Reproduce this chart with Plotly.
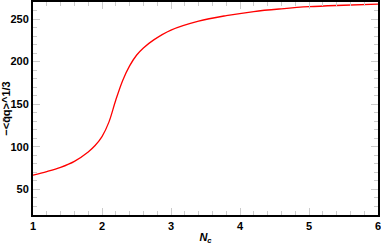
import plotly.graph_objects as go

nc = [1.0, 1.2, 1.4, 1.6, 1.8, 1.9, 2.0, 2.1, 2.2, 2.3, 2.4, 2.5, 2.6, 2.75, 3.0, 3.4, 3.8, 4.2, 4.6, 5.0, 5.5, 6.0]
cond = [66.8, 71, 76, 83, 94, 101.5, 112, 129, 155, 178, 195, 207.5, 216, 225.5, 237, 247.5, 254, 258.8, 262, 264.5, 266.2, 267.5]

x_ticks = [1, 2, 3, 4, 5, 6]
y_ticks = [50, 100, 150, 200, 250]

fig = go.Figure()
fig.add_trace(go.Scatter(x=nc, y=cond, mode="lines",
                         line=dict(color="#ff0000", width=1.3, shape="spline", smoothing=1),
                         showlegend=False, hoverinfo="skip"))

FAM = "Liberation Sans, Arial, sans-serif"
axis_common = dict(showgrid=False, zeroline=False, showline=True, linecolor="black",
                   linewidth=2, mirror="allticks", ticks="inside", ticklen=7,
                   tickcolor="#cccccc", tickwidth=1, automargin=False,
                   ticklabeloverflow="allow",
                   tickfont=dict(family=FAM, size=11, color="black"))

fig.update_layout(
    width=381, height=245,
    margin=dict(l=33, r=3, t=2, b=30),
    paper_bgcolor="white", plot_bgcolor="white",
    font=dict(family=FAM, size=11, color="black"),
    xaxis=dict(range=[1, 6], tickvals=x_ticks, ticktext=[f"<b>{v}</b>" for v in x_ticks],
               minor=dict(dtick=0.2, ticks="inside", ticklen=4, tickcolor="#cccccc", showgrid=False),
               title=dict(text="<b><i>N<sub>c</sub></i></b>", standoff=2,
                          font=dict(family=FAM, size=11)),
               **axis_common),
    yaxis=dict(range=[20, 270], tickvals=y_ticks, ticktext=[f"<b>{v}</b>" for v in y_ticks],
               minor=dict(dtick=10, ticks="inside", ticklen=4, tickcolor="#cccccc", showgrid=False),
               title=dict(text="<b>\u2212<q\u0304q>^1/3</b>", standoff=2,
                          font=dict(family=FAM, size=11)),
               **axis_common),
)

fig.write_html("out.html", config={"displayModeBar": False},
               post_script="document.body.style.margin='0';document.body.style.overflow='hidden';")
